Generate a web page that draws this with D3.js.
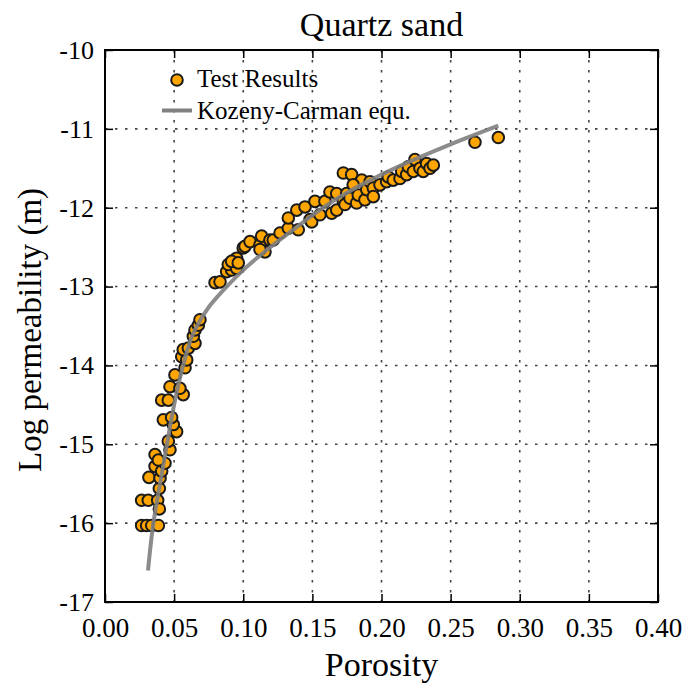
<!DOCTYPE html>
<html>
<head>
<meta charset="utf-8">
<script src="https://cdn.jsdelivr.net/npm/d3@7"></script>
<style>
  body { margin: 0; background: #fff; }
  svg { display: block; }
  svg text { font-family: "Liberation Serif", "Times New Roman", serif; }
</style>
</head>
<body>
<svg id="chart" width="694" height="684"></svg>
<script>
// test results (porosity, log permeability)
var porosity = [0.0265, 0.0301, 0.0338, 0.0386, 0.0265, 0.0313, 0.0381, 0.0393, 0.0393, 0.0318,
	0.0398, 0.0362, 0.0410, 0.0434, 0.0362, 0.0386, 0.0470, 0.0458, 0.0518, 0.0494,
	0.0422, 0.0482, 0.0410, 0.0458, 0.0566, 0.0470, 0.0542, 0.0506, 0.0579, 0.0555,
	0.0591, 0.0566, 0.0603, 0.0651, 0.0639, 0.0651, 0.0675, 0.0687, 0.0796, 0.0832,
	0.0880, 0.0916, 0.0892, 0.0952, 0.0952, 0.0916, 0.0964, 0.1000, 0.1013, 0.1049,
	0.1121, 0.1133, 0.1157, 0.1121, 0.1193, 0.1217, 0.1266, 0.1326, 0.1326, 0.1387,
	0.1398, 0.1447, 0.1483, 0.1495, 0.1519, 0.1555, 0.1591, 0.1627, 0.1640, 0.1676,
	0.1676, 0.1724, 0.1748, 0.1724, 0.1784, 0.1857, 0.1736, 0.1772, 0.1820, 0.1795,
	0.1832, 0.1880, 0.1893, 0.1917, 0.1941, 0.1941, 0.1989, 0.2037, 0.2049, 0.2085,
	0.2134, 0.2146, 0.2182, 0.2194, 0.2230, 0.2242, 0.2278, 0.2302, 0.2326, 0.2351,
	0.2375, 0.2676, 0.2845];
var logK = [-16.03, -16.03, -16.03, -16.03, -15.71, -15.71, -15.71, -15.82, -15.56, -15.42,
	-15.43, -15.28, -15.34, -15.24, -15.13, -15.20, -15.07, -14.96, -14.84, -14.75,
	-14.69, -14.66, -14.44, -14.44, -14.37, -14.27, -14.29, -14.12, -14.03, -13.89,
	-13.93, -13.80, -13.78, -13.72, -13.63, -13.55, -13.49, -13.42, -12.95, -12.94,
	-12.81, -12.79, -12.72, -12.77, -12.64, -12.68, -12.70, -12.51, -12.49, -12.43,
	-12.47, -12.36, -12.56, -12.53, -12.41, -12.41, -12.32, -12.26, -12.13, -12.03,
	-12.28, -11.99, -12.15, -12.18, -11.92, -12.09, -11.92, -11.80, -12.07, -11.82,
	-12.03, -11.92, -11.82, -11.56, -11.58, -11.65, -11.96, -11.88, -11.94, -11.71,
	-11.84, -11.90, -11.77, -11.67, -11.75, -11.86, -11.71, -11.67, -11.61, -11.65,
	-11.63, -11.54, -11.58, -11.48, -11.54, -11.39, -11.50, -11.54, -11.44, -11.50,
	-11.46, -11.17, -11.11];

// Kozeny-Carman curve
var kcPorosity = [0.0311, 0.0350, 0.0398, 0.0448, 0.0500, 0.0565, 0.0650, 0.0755, 0.0880, 0.1025,
	0.1338, 0.1700, 0.2134, 0.2495, 0.2845];
var kcLogK = [-16.60, -16.00, -15.50, -15.00, -14.50, -14.00, -13.55, -13.25, -13.00, -12.75,
	-12.31, -11.86, -11.47, -11.20, -10.96];

var xTicks = [0, 0.05, 0.10, 0.15, 0.20, 0.25, 0.30, 0.35, 0.40];
var yTicks = [-17, -16, -15, -14, -13, -12, -11, -10];

var plotLeft = 105, plotRight = 658, plotTop = 50, plotBottom = 602;
var plotWidth = plotRight - plotLeft, plotHeight = plotBottom - plotTop;
var serif = '"Liberation Serif", "Times New Roman", serif';

var svg = d3.select('#chart');
svg.append('rect').attr('width', 694).attr('height', 684).style('fill', 'white');

var x = d3.scaleLinear().domain([0, 0.4]).range([plotLeft, plotRight]);
var y = d3.scaleLinear().domain([-17, -10]).range([plotBottom, plotTop]);

// grid
var grid = svg.append('g').attr('class', 'grid');
grid.selectAll('line.gx').data(xTicks.slice(1, -1)).join('line')
	.attr('class', 'gx')
	.attr('x1', d => x(d)).attr('x2', d => x(d)).attr('y1', plotTop).attr('y2', plotBottom);
grid.selectAll('line.gy').data(yTicks.slice(1, -1)).join('line')
	.attr('class', 'gy')
	.attr('x1', plotLeft).attr('x2', plotRight).attr('y1', d => y(d)).attr('y2', d => y(d));
grid.selectAll('line')
	.style('stroke', '#444').style('stroke-width', 1.6).style('stroke-dasharray', '2.5,7.5');

// inward ticks on all four sides
svg.append('g').attr('transform', 'translate(0,' + plotBottom + ')')
	.call(d3.axisBottom(x).tickValues(xTicks).tickSizeInner(-8).tickSizeOuter(0).tickPadding(16)
		.tickFormat(d3.format('.2f')))
	.attr('font-family', serif).attr('font-size', 27)
	.call(g => g.select('.domain').remove());
svg.append('g').attr('transform', 'translate(0,' + plotTop + ')')
	.call(d3.axisTop(x).tickValues(xTicks).tickSizeInner(-8).tickSizeOuter(0).tickFormat(''))
	.call(g => g.select('.domain').remove());
svg.append('g').attr('transform', 'translate(' + plotLeft + ',0)')
	.call(d3.axisLeft(y).tickValues(yTicks).tickSizeInner(-8).tickSizeOuter(0).tickPadding(11)
		.tickFormat(d => String(d)))
	.attr('font-family', serif).attr('font-size', 26)
	.call(g => g.select('.domain').remove());
svg.append('g').attr('transform', 'translate(' + plotRight + ',0)')
	.call(d3.axisRight(y).tickValues(yTicks).tickSizeInner(-8).tickSizeOuter(0).tickFormat(''))
	.call(g => g.select('.domain').remove());
svg.selectAll('.tick line').style('stroke', '#000').style('stroke-width', 1.5);
svg.selectAll('.tick text').style('fill', '#000');

// data points
svg.append('g').selectAll('circle').data(porosity).join('circle')
	.attr('cx', d => x(d))
	.attr('cy', (d, i) => y(logK[i]))
	.attr('r', 5.8)
	.style('fill', '#ffa500').style('stroke', '#1a1a1a').style('stroke-width', 2);

// Kozeny-Carman line
var kc = kcPorosity.map((d, i) => [d, kcLogK[i]]);
svg.append('path').datum(kc)
	.attr('d', d3.line().x(d => x(d[0])).y(d => y(d[1])).curve(d3.curveMonotoneY))
	.style('fill', 'none').style('stroke', '#808080').style('stroke-width', 4).style('opacity', 0.9);

// frame
svg.append('rect').attr('x', plotLeft).attr('y', plotTop).attr('width', plotWidth).attr('height', plotHeight)
	.style('fill', 'none').style('stroke', '#000').style('stroke-width', 2);

// titles
svg.append('text').attr('x', (plotLeft + plotRight) / 2).attr('y', 36).attr('text-anchor', 'middle')
	.style('font-size', '34px').text('Quartz sand');
svg.append('text').attr('x', (plotLeft + plotRight) / 2).attr('y', 676).attr('text-anchor', 'middle')
	.style('font-size', '34px').text('Porosity');
svg.append('text').attr('transform', 'translate(41,' + ((plotTop + plotBottom) / 2 + 4) + ') rotate(-90)')
	.attr('text-anchor', 'middle')
	.style('font-size', '33px').text('Log permeability (m)');

// legend
var legend = svg.append('g');
legend.append('circle').attr('cx', 177).attr('cy', 80).attr('r', 5.8)
	.style('fill', '#ffa500').style('stroke', '#1a1a1a').style('stroke-width', 2);
legend.append('text').attr('x', 197).attr('y', 87).style('font-size', '25px').text('Test Results');
legend.append('line').attr('x1', 162).attr('x2', 192).attr('y1', 110.5).attr('y2', 110.5)
	.style('stroke', '#808080').style('stroke-width', 4);
legend.append('text').attr('x', 197).attr('y', 119).style('font-size', '25px').text('Kozeny-Carman equ.');
</script>
</body>
</html>
